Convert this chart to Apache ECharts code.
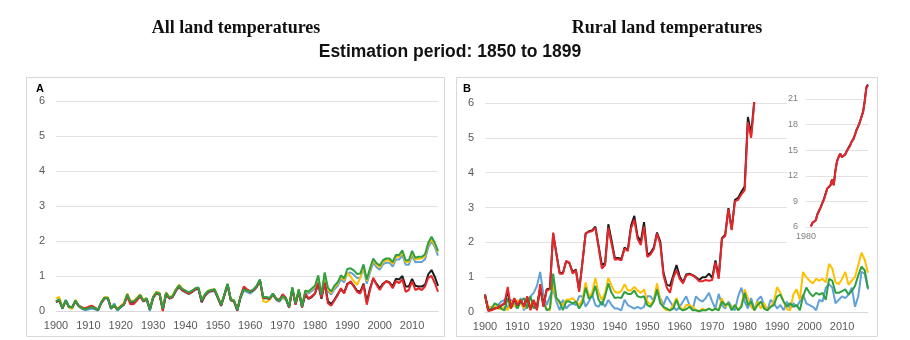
<!DOCTYPE html>
<html>
<head>
<meta charset="utf-8">
<script src="https://cdn.jsdelivr.net/npm/echarts@6/dist/echarts.min.js"></script>
<style>
  html, body { margin: 0; padding: 0; background: #ffffff; }
  #chart { width: 910px; height: 340px; }
</style>
</head>
<body>
<div id="chart"></div>
<script>
// Years on the horizontal axis (1900-2018)
const firstYear = 1900;
const lastYear = 2018;
const years = [];
for (let y = firstYear; y <= lastYear; y++) years.push(String(y));

// Inset axis starts in 1980
const insetStartYear = 1980;
const insetFirstDataYear = 1983;

const yTicksMain = [0, 1, 2, 3, 4, 5, 6];
const yTicksInset = [6, 9, 12, 15, 18, 21];

// ---- Panel A: all land temperatures ----
const allBlack = [
  0.26, 0.30, 0.08, 0.29, 0.12, 0.11, 0.28, 0.15, 0.09, 0.06,
  0.09, 0.12, 0.08, 0.03, 0.24, 0.37, 0.37, 0.08, 0.15, 0.04,
  0.12, 0.19, 0.45, 0.24, 0.24, 0.33, 0.44, 0.28, 0.34, 0.04,
  0.38, 0.51, 0.48, 0.03, 0.50, 0.36, 0.40, 0.58, 0.71, 0.60,
  0.55, 0.50, 0.55, 0.62, 0.64, 0.25, 0.44, 0.55, 0.58, 0.60,
  0.38, 0.16, 0.45, 0.76, 0.31, 0.28, 0.02, 0.40, 0.64, 0.59,
  0.55, 0.60, 0.70, 0.88, 0.38, 0.38, 0.35, 0.49, 0.35, 0.30,
  0.44, 0.36, 0.11, 0.64, 0.20, 0.58, 0.13, 0.46, 0.35, 0.40,
  0.50, 0.78, 0.35, 0.80, 0.28, 0.20, 0.32, 0.48, 0.62, 0.52,
  0.78, 0.82, 0.72, 0.58, 0.55, 0.78, 0.25, 0.65, 0.92, 0.78,
  0.65, 0.78, 0.85, 0.82, 0.70, 0.92, 0.90, 1.00, 0.70, 0.70,
  0.92, 0.72, 0.70, 0.70, 0.75, 1.05, 1.17, 0.98, 0.72
];
const allRed = [
  0.27, 0.31, 0.09, 0.29, 0.11, 0.12, 0.28, 0.16, 0.10, 0.08,
  0.12, 0.15, 0.10, 0.04, 0.24, 0.37, 0.37, 0.09, 0.14, 0.05,
  0.13, 0.19, 0.42, 0.19, 0.20, 0.30, 0.42, 0.28, 0.33, 0.05,
  0.38, 0.50, 0.48, 0.00, 0.50, 0.36, 0.40, 0.58, 0.70, 0.60,
  0.55, 0.50, 0.55, 0.62, 0.64, 0.28, 0.45, 0.55, 0.58, 0.60,
  0.38, 0.16, 0.45, 0.76, 0.31, 0.28, 0.02, 0.42, 0.70, 0.62,
  0.57, 0.60, 0.70, 0.88, 0.38, 0.38, 0.35, 0.48, 0.36, 0.32,
  0.48, 0.38, 0.10, 0.62, 0.18, 0.55, 0.10, 0.50, 0.36, 0.42,
  0.50, 0.80, 0.38, 0.80, 0.22, 0.15, 0.30, 0.45, 0.65, 0.50,
  0.75, 0.85, 0.70, 0.55, 0.50, 0.75, 0.18, 0.60, 0.95, 0.75,
  0.60, 0.75, 0.85, 0.80, 0.65, 0.85, 0.80, 0.90, 0.55, 0.60,
  0.85, 0.60, 0.65, 0.60, 0.70, 0.95, 1.00, 0.80, 0.55
];
const allYellow = [
  0.36, 0.40, 0.10, 0.28, 0.10, 0.06, 0.32, 0.14, 0.07, 0.06,
  0.10, 0.13, 0.09, 0.04, 0.26, 0.40, 0.39, 0.10, 0.15, 0.06,
  0.15, 0.24, 0.50, 0.29, 0.29, 0.38, 0.47, 0.32, 0.37, 0.06,
  0.42, 0.55, 0.52, 0.08, 0.53, 0.40, 0.44, 0.62, 0.75, 0.64,
  0.58, 0.52, 0.57, 0.64, 0.66, 0.31, 0.48, 0.58, 0.61, 0.62,
  0.41, 0.18, 0.48, 0.77, 0.34, 0.31, 0.04, 0.40, 0.62, 0.58,
  0.55, 0.60, 0.70, 0.88, 0.28, 0.25, 0.32, 0.48, 0.35, 0.29,
  0.40, 0.35, 0.12, 0.66, 0.22, 0.60, 0.12, 0.58, 0.54, 0.62,
  0.70, 0.98, 0.44, 1.06, 0.62, 0.52, 0.68, 0.78, 0.98, 0.88,
  1.10, 0.98, 0.85, 0.75, 0.95, 1.28, 0.86, 1.18, 1.46, 1.32,
  1.25, 1.40, 1.45, 1.45, 1.35, 1.55, 1.55, 1.68, 1.40, 1.40,
  1.66, 1.47, 1.49, 1.50, 1.57, 1.90, 2.06, 1.88, 1.68
];
const allBlue = [
  0.25, 0.30, 0.06, 0.32, 0.14, 0.08, 0.27, 0.13, 0.06, 0.02,
  0.04, 0.07, 0.05, 0.01, 0.22, 0.35, 0.36, 0.05, 0.22, 0.01,
  0.10, 0.17, 0.44, 0.25, 0.24, 0.33, 0.43, 0.27, 0.33, 0.00,
  0.36, 0.50, 0.46, 0.04, 0.48, 0.35, 0.39, 0.56, 0.68, 0.58,
  0.53, 0.48, 0.53, 0.60, 0.62, 0.27, 0.43, 0.52, 0.56, 0.57,
  0.36, 0.14, 0.43, 0.73, 0.30, 0.27, 0.00, 0.36, 0.58, 0.54,
  0.50, 0.57, 0.67, 0.86, 0.36, 0.36, 0.33, 0.46, 0.32, 0.26,
  0.38, 0.32, 0.09, 0.63, 0.19, 0.57, 0.09, 0.54, 0.50, 0.57,
  0.64, 0.93, 0.40, 1.00, 0.57, 0.47, 0.62, 0.72, 0.90, 0.82,
  1.08, 1.10, 1.04, 0.94, 0.95, 1.21, 0.78, 1.10, 1.38, 1.25,
  1.18, 1.33, 1.38, 1.38, 1.27, 1.47, 1.47, 1.60, 1.32, 1.32,
  1.59, 1.39, 1.40, 1.40, 1.48, 1.82, 2.00, 1.83, 1.58
];
const allGreen = [
  0.28, 0.33, 0.08, 0.30, 0.12, 0.10, 0.30, 0.15, 0.08, 0.05,
  0.08, 0.11, 0.08, 0.03, 0.25, 0.38, 0.38, 0.08, 0.18, 0.03,
  0.12, 0.20, 0.48, 0.27, 0.27, 0.36, 0.46, 0.30, 0.36, 0.04,
  0.40, 0.53, 0.50, 0.06, 0.52, 0.38, 0.42, 0.60, 0.73, 0.63,
  0.58, 0.53, 0.58, 0.65, 0.67, 0.30, 0.48, 0.57, 0.60, 0.62,
  0.40, 0.18, 0.47, 0.78, 0.33, 0.30, 0.03, 0.40, 0.62, 0.58,
  0.55, 0.62, 0.72, 0.90, 0.40, 0.40, 0.37, 0.50, 0.36, 0.30,
  0.42, 0.36, 0.12, 0.68, 0.22, 0.62, 0.12, 0.58, 0.56, 0.64,
  0.72, 1.02, 0.46, 1.10, 0.66, 0.56, 0.72, 0.82, 1.02, 0.93,
  1.20, 1.22, 1.16, 1.06, 1.07, 1.33, 0.90, 1.22, 1.50, 1.37,
  1.30, 1.45, 1.50, 1.50, 1.40, 1.60, 1.60, 1.73, 1.45, 1.45,
  1.72, 1.52, 1.55, 1.55, 1.62, 1.95, 2.12, 1.95, 1.72
];

// ---- Panel B: rural land temperatures ----
const ruralBlack = [
  0.50, 0.05, 0.06, 0.10, 0.12, 0.18, 0.24, 0.60, 0.12, 0.38,
  0.20, 0.33, 0.18, 0.42, 0.08, 0.33, 0.08, 0.70, 0.18, 0.65,
  0.68, 2.25, 1.68, 1.12, 1.12, 1.45, 1.40, 1.15, 1.22, 0.62,
  1.42, 2.25, 2.32, 2.34, 2.45, 1.90, 1.35, 1.40, 2.52, 2.05,
  1.55, 1.55, 1.52, 1.85, 1.78, 2.48, 2.76, 2.18, 2.02, 2.58,
  1.65, 1.70, 1.85, 2.28, 2.02, 1.12, 0.78, 0.75, 1.05, 1.35,
  1.02, 0.85, 1.08, 1.10, 1.06, 1.00, 0.92, 1.00, 1.00, 1.10,
  0.98, 1.48, 1.00, 2.12, 2.22, 2.98, 2.38, 3.22, 3.28, 3.45,
  3.60, 5.60, 5.10, 6.10, 6.5, 6.5, 6.8, 7.5, 7.9, 8.3,
  8.8, 9.3, 9.2, 10.5, 10.3, 10.9, 11.6, 10.9, 12.6, 13.7,
  14.2, 14.6, 14.2, 14.3, 14.5, 14.9, 15.1, 15.6, 16.0, 16.3,
  16.8, 17.4, 17.8, 18.3, 18.9, 19.5, 20.8, 22.4, 22.7
];
const ruralRed = [
  0.50, 0.03, 0.05, 0.10, 0.12, 0.20, 0.25, 0.72, 0.10, 0.40,
  0.20, 0.35, 0.15, 0.45, 0.05, 0.35, 0.05, 0.80, 0.15, 0.62,
  0.65, 2.28, 1.65, 1.10, 1.10, 1.47, 1.42, 1.10, 1.20, 0.58,
  1.40, 2.25, 2.30, 2.32, 2.42, 1.85, 1.25, 1.35, 2.42, 1.95,
  1.50, 1.52, 1.48, 1.82, 1.75, 2.40, 2.65, 2.10, 1.92, 2.45,
  1.58, 1.65, 1.80, 2.25, 1.95, 1.05, 0.70, 0.55, 0.98, 1.20,
  0.95, 0.82, 1.05, 1.08, 1.05, 0.98, 0.88, 0.88, 0.92, 0.90,
  0.92, 1.42, 0.95, 2.10, 2.18, 2.95, 2.35, 3.18, 3.22, 3.38,
  3.50, 5.45, 5.00, 6.05, 6.5, 6.5, 6.8, 7.5, 7.9, 8.3,
  8.8, 9.2, 9.3, 10.5, 10.3, 10.9, 11.6, 10.9, 12.5, 13.7,
  14.2, 14.6, 14.2, 14.3, 14.5, 14.9, 15.1, 15.5, 16.0, 16.3,
  16.8, 17.4, 17.8, 18.3, 18.9, 19.5, 20.7, 22.3, 22.6
];
const ruralYellow = [
  0.45, 0.15, 0.12, 0.18, 0.10, 0.08, 0.15, 0.05, 0.30, 0.15,
  0.35, 0.25, 0.10, 0.40, 0.20, 0.15, 0.20, 0.70, 0.30, 0.10,
  0.05, 0.80, 0.40, 0.25, 0.20, 0.35, 0.35, 0.40, 0.30, 0.20,
  0.35, 0.85, 0.45, 0.55, 0.98, 0.55, 0.35, 0.55, 0.98, 0.75,
  0.58, 0.55, 0.60, 0.80, 0.62, 0.62, 0.72, 0.62, 0.55, 0.65,
  0.30, 0.20, 0.35, 0.82, 0.35, 0.12, 0.05, 0.05, 0.20, 0.40,
  0.15, 0.05, 0.20, 0.20, 0.15, 0.05, 0.02, 0.10, 0.05, 0.10,
  0.05, 0.10, 0.05, 0.40, 0.15, 0.25, 0.10, 0.20, 0.05, 0.20,
  0.65, 0.40, 0.15, 0.05, 0.30, 0.10, 0.25, 0.05, 0.15, 0.30,
  0.72, 0.55, 0.30, 0.08, 0.05, 0.50, 0.65, 0.35, 1.15, 1.00,
  0.90, 0.82, 0.95, 0.90, 0.95, 0.85, 1.38, 1.25, 0.85, 0.80,
  0.95, 1.15, 0.78, 0.90, 1.00, 1.35, 1.70, 1.50, 1.13
];
const ruralBlue = [
  0.45, 0.05, 0.15, 0.10, 0.20, 0.30, 0.35, 0.10, 0.35, 0.20,
  0.10, 0.40, 0.05, 0.20, 0.45, 0.55, 0.75, 1.15, 0.50, 0.20,
  0.45, 0.65, 0.30, 0.05, 0.35, 0.10, 0.20, 0.25, 0.20, 0.45,
  0.45, 0.15, 0.30, 0.50, 0.20, 0.15, 0.30, 0.15, 0.35, 0.20,
  0.10, 0.10, 0.05, 0.35, 0.20, 0.15, 0.10, 0.15, 0.10, 0.15,
  0.45, 0.45, 0.30, 0.60, 0.40, 0.20, 0.45, 0.30, 0.15, 0.05,
  0.15, 0.30, 0.45, 0.20, 0.08, 0.45, 0.35, 0.30, 0.40, 0.55,
  0.30, 0.10, 0.52, 0.20, 0.10, 0.30, 0.15, 0.05, 0.45, 0.70,
  0.30, 0.10, 0.40, 0.05, 0.35, 0.45, 0.20, 0.05, 0.35, 0.25,
  0.10, 0.20, 0.05, 0.30, 0.10, 0.25, 0.15, 0.30, 0.50, 0.25,
  0.20, 0.15, 0.05, 0.35, 0.30, 0.70, 0.80, 0.70, 0.25, 0.35,
  0.45, 0.40, 0.50, 0.70, 0.15, 0.45, 1.15, 1.10, 0.65
];
const ruralGreen = [
  0.50, 0.05, 0.10, 0.25, 0.20, 0.10, 0.05, 0.40, 0.10, 0.35,
  0.10, 0.30, 0.40, 0.10, 0.45, 0.10, 0.20, 0.65, 0.30, 0.05,
  0.10, 1.10, 0.40, 0.30, 0.05, 0.30, 0.30, 0.25, 0.30, 0.10,
  0.25, 0.70, 0.38, 0.45, 0.75, 0.35, 0.20, 0.45, 0.82, 0.55,
  0.40, 0.42, 0.40, 0.58, 0.52, 0.52, 0.62, 0.45, 0.42, 0.45,
  0.20, 0.15, 0.30, 0.65, 0.25, 0.15, 0.10, 0.05, 0.10, 0.35,
  0.10, 0.05, 0.08, 0.15, 0.05, 0.05, 0.02, 0.05, 0.05, 0.10,
  0.05, 0.10, 0.05, 0.30, 0.20, 0.25, 0.05, 0.20, 0.05, 0.15,
  0.55, 0.20, 0.30, 0.05, 0.20, 0.30, 0.10, 0.05, 0.15, 0.20,
  0.45, 0.50, 0.30, 0.15, 0.25, 0.15, 0.20, 0.05, 0.45, 0.70,
  0.55, 0.45, 0.55, 0.50, 0.55, 0.35, 0.95, 0.90, 0.55, 0.55,
  0.60, 0.65, 0.50, 0.60, 0.75, 1.05, 1.30, 1.20, 0.68
];

const colors = {
  black: '#1c1c1c',
  red: '#e5262a',
  yellow: '#ffc000',
  blue: '#62a0d8',
  green: '#2ea043'
};

const labelFont = 'Liberation Sans, Arial, sans-serif';
const gridLineColor = '#e2e2e2';
const tickColor = '#595959';

function line(data, color, axisIndex, z) {
  return {
    type: 'line',
    data: data,
    xAxisIndex: axisIndex,
    yAxisIndex: axisIndex,
    showSymbol: false,
    symbol: 'none',
    clip: true,
    z: z,
    lineStyle: { color: color, width: 2 },
    itemStyle: { color: color },
    emphasis: { disabled: true },
    animation: false
  };
}

function mainXAxis(gridIndex) {
  return {
    type: 'category',
    gridIndex: gridIndex,
    data: years,
    boundaryGap: false,
    axisLine: { show: true, lineStyle: { color: '#d9d9d9' } },
    axisTick: { show: false },
    axisLabel: { interval: 9, color: tickColor, fontSize: 11, fontFamily: labelFont, margin: 9 },
    splitLine: { show: false }
  };
}
function mainYAxis(gridIndex) {
  return {
    type: 'value',
    gridIndex: gridIndex,
    min: yTicksMain[0],
    max: yTicksMain[yTicksMain.length - 1],
    interval: 1,
    axisLine: { show: false },
    axisTick: { show: false },
    axisLabel: { color: tickColor, fontSize: 11, fontFamily: labelFont, margin: 11 },
    splitLine: { lineStyle: { color: gridLineColor, width: 1 } }
  };
}

// Inset: the rural curves from 1980 onward on their own scale
const insetYears = years.slice(insetStartYear - firstYear);
function insetData(arr) {
  return arr.slice(insetStartYear - firstYear).map(function (v, i) {
    return (insetStartYear + i) < insetFirstDataYear ? null : v;
  });
}

const option = {
  backgroundColor: '#ffffff',
  animation: false,
  grid: [
    { left: 56, top: 101, width: 382, height: 210 },
    { left: 485, top: 103, width: 383, height: 209 },
    { left: 806, top: 84.5, width: 62, height: 142.5 }
  ],
  xAxis: [
    mainXAxis(0),
    mainXAxis(1),
    {
      type: 'category',
      gridIndex: 2,
      data: insetYears,
      boundaryGap: false,
      z: 4,
      axisLine: { show: false },
      axisTick: { show: false },
      axisLabel: {
        interval: function (i) { return i === 0; },
        color: '#7f7f7f', fontSize: 9, fontFamily: labelFont, margin: 5
      },
      splitLine: { show: false }
    }
  ],
  yAxis: [
    mainYAxis(0),
    mainYAxis(1),
    {
      type: 'value',
      gridIndex: 2,
      min: yTicksInset[0],
      max: 22.7,
      interval: 3,
      z: 4,
      axisLine: { show: false },
      axisTick: { show: false },
      axisLabel: { color: '#7f7f7f', fontSize: 9, fontFamily: labelFont, margin: 8, showMaxLabel: false },
      splitLine: { showMaxLine: false, lineStyle: { color: gridLineColor, width: 1 } }
    }
  ],
  graphic: [
    { type: 'rect', z: -1, silent: true,
      shape: { x: 26.5, y: 77.5, width: 418, height: 259 },
      style: { fill: 'none', stroke: '#d9d9d9', lineWidth: 1 } },
    { type: 'rect', z: -1, silent: true,
      shape: { x: 456.5, y: 77.5, width: 421, height: 259 },
      style: { fill: 'none', stroke: '#d9d9d9', lineWidth: 1 } },
    // white backing for the inset so the main gridlines stop behind it
    { type: 'rect', z: 1, silent: true,
      shape: { x: 787, y: 80, width: 89, height: 166 },
      style: { fill: '#ffffff' } },
    { type: 'text', silent: true, left: 36, top: 83,
      style: { text: 'A', font: 'bold 11px Liberation Sans, Arial, sans-serif', fill: '#000' } },
    { type: 'text', silent: true, left: 463, top: 83,
      style: { text: 'B', font: 'bold 11px Liberation Sans, Arial, sans-serif', fill: '#000' } },
    { type: 'text', silent: true, x: 236, y: 28,
      style: { text: 'All land temperatures', font: 'bold 18px Liberation Serif, Times New Roman, serif',
               fill: '#111', textAlign: 'center', textVerticalAlign: 'middle' } },
    { type: 'text', silent: true, x: 667, y: 28,
      style: { text: 'Rural land temperatures', font: 'bold 18px Liberation Serif, Times New Roman, serif',
               fill: '#111', textAlign: 'center', textVerticalAlign: 'middle' } },
    { type: 'text', silent: true, x: 450, y: 52,
      style: { text: 'Estimation period: 1850 to 1899', font: 'bold 17.5px Liberation Sans, Arial, sans-serif',
               fill: '#111', textAlign: 'center', textVerticalAlign: 'middle' } }
  ],
  series: [
    line(allBlue, colors.blue, 0, 2),
    line(allYellow, colors.yellow, 0, 3),
    line(allBlack, colors.black, 0, 4),
    line(allRed, colors.red, 0, 5),
    line(allGreen, colors.green, 0, 6),

    line(ruralBlue, colors.blue, 1, 2),
    line(ruralYellow, colors.yellow, 1, 3),
    line(ruralGreen, colors.green, 1, 4),
    line(ruralBlack, colors.black, 1, 5),
    line(ruralRed, colors.red, 1, 6),

    line(insetData(ruralBlack), colors.black, 2, 7),
    line(insetData(ruralRed), colors.red, 2, 8)
  ]
};

const chart = echarts.init(document.getElementById('chart'), null, { renderer: 'canvas' });
chart.setOption(option);
</script>
</body>
</html>
